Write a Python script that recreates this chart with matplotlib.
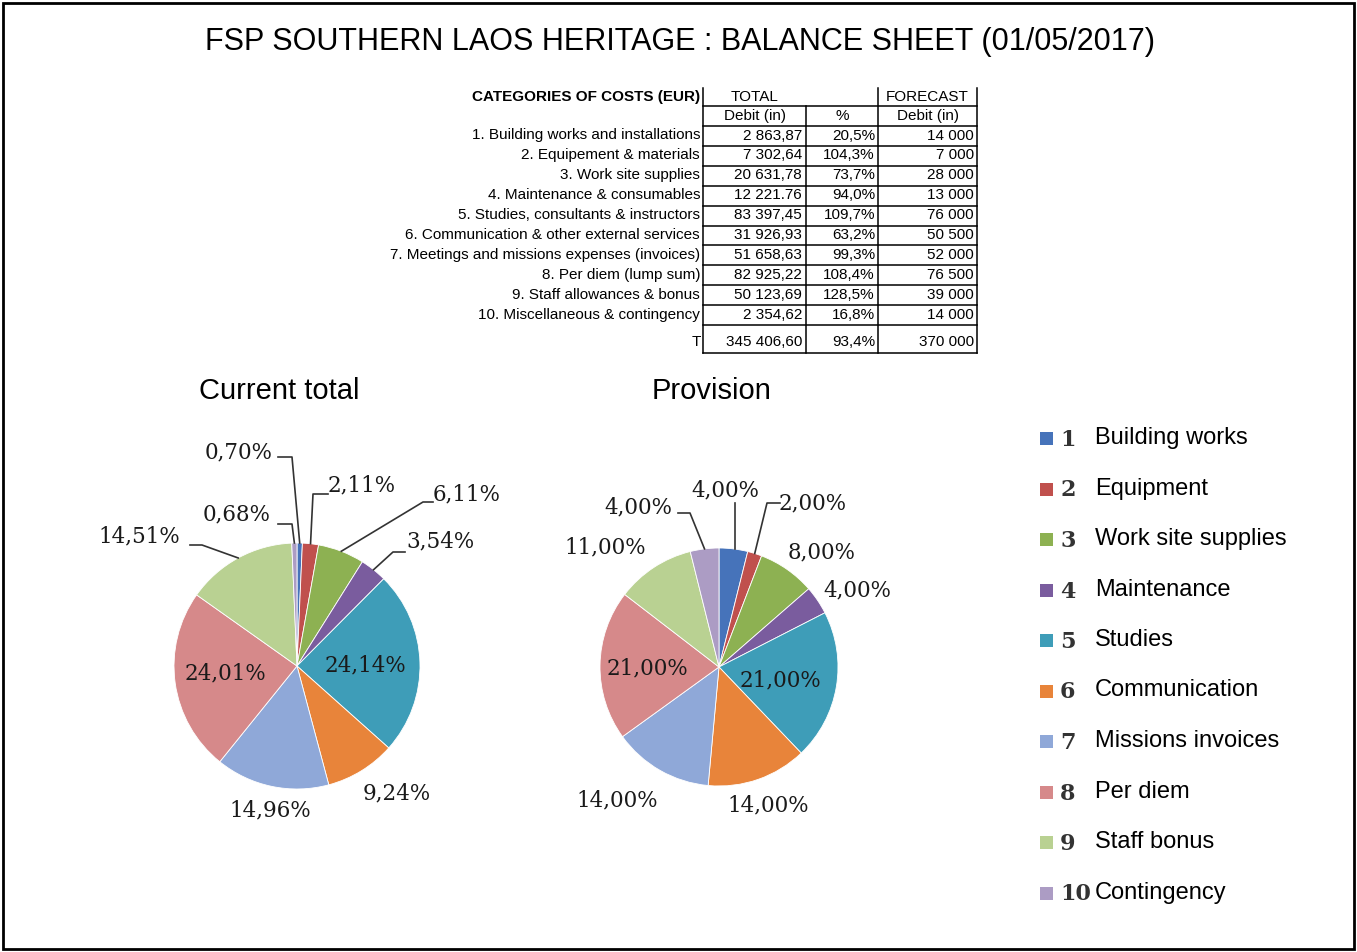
import matplotlib
matplotlib.use('Agg')
import matplotlib.pyplot as plt
import numpy as np
from matplotlib.patches import Rectangle

# data
categories = ["1. Building works and installations", "2. Equipement & materials",
              "3. Work site supplies", "4. Maintenance & consumables",
              "5. Studies, consultants & instructors", "6. Communication & other external services",
              "7. Meetings and missions expenses (invoices)", "8. Per diem (lump sum)",
              "9. Staff allowances & bonus", "10. Miscellaneous & contingency"]
debit = ["2 863,87", "7 302,64", "20 631,78", "12 221.76", "83 397,45",
         "31 926,93", "51 658,63", "82 925,22", "50 123,69", "2 354,62"]
pct = ["20,5%", "104,3%", "73,7%", "94,0%", "109,7%", "63,2%", "99,3%", "108,4%", "128,5%", "16,8%"]
forecast = ["14 000", "7 000", "28 000", "13 000", "76 000",
            "50 500", "52 000", "76 500", "39 000", "14 000"]
totals = ["345 406,60", "93,4%", "370 000"]

current_share = [0.70, 2.11, 6.11, 3.54, 24.14, 9.24, 14.96, 24.01, 14.51, 0.68]
provision_share = [4, 2, 8, 4, 21, 14, 14, 21, 11, 4]
current_labels = ["0,70%", "2,11%", "6,11%", "3,54%", "24,14%", "9,24%", "14,96%", "24,01%", "14,51%", "0,68%"]
provision_labels = ["4,00%", "2,00%", "8,00%", "4,00%", "21,00%", "14,00%", "14,00%", "21,00%", "11,00%", "4,00%"]

legend_names = ["Building works", "Equipment", "Work site supplies", "Maintenance", "Studies",
                "Communication", "Missions invoices", "Per diem", "Staff bonus", "Contingency"]
colors = ["#4673BA", "#C0504D", "#8DB152", "#7A5C9E", "#3E9DB8",
          "#E8843A", "#8FA8D8", "#D6898A", "#B9D192", "#AC9CC4"]

W, H = 1357, 952
fig = plt.figure(figsize=(W / 100, H / 100), dpi=100)
ax = fig.add_axes([0, 0, 1, 1])


def Y(y):
    # pixel from top -> data y
    return H - y


sans = 'Liberation Sans'
serif = 'DejaVu Serif'

# border + title
ax.add_patch(Rectangle((3, 3), W - 6, H - 6, fill=False, lw=2, ec='black'))
ax.text(680, Y(42), "FSP SOUTHERN LAOS HERITAGE : BALANCE SHEET (01/05/2017)",
        fontsize=22, family=sans, ha='center', va='center')

# ---- table ----
tfs = 11
x_lab, x_c1, x_c2, x_c3, x_end = 703, 806, 878, 977, 977
ax.text(x_lab - 3, Y(97), "CATEGORIES OF COSTS (EUR)", fontsize=tfs, family=sans,
        weight='bold', ha='right', va='center')
ax.text(755, Y(97), "TOTAL", fontsize=tfs, family=sans, ha='center', va='center')
ax.text(927, Y(97), "FORECAST", fontsize=tfs, family=sans, ha='center', va='center')
ax.text(755, Y(116), "Debit (in)", fontsize=tfs, family=sans, ha='center', va='center')
ax.text(842, Y(116), "%", fontsize=tfs, family=sans, ha='center', va='center')
ax.text(928, Y(116), "Debit (in)", fontsize=tfs, family=sans, ha='center', va='center')

row0, rowh = 135.5, 19.9
for i in range(len(categories)):
    yy = Y(row0 + i * rowh)
    ax.text(x_lab - 3, yy, categories[i], fontsize=tfs, family=sans, ha='right', va='center')
    ax.text(x_c1 - 4, yy, debit[i], fontsize=tfs, family=sans, ha='right', va='center')
    ax.text(x_c2 - 3, yy, pct[i], fontsize=tfs, family=sans, ha='right', va='center')
    ax.text(x_c3 - 3, yy, forecast[i], fontsize=tfs, family=sans, ha='right', va='center')
ytot = Y(342)
ax.text(x_lab - 2, ytot, "T", fontsize=tfs, family=sans, ha='right', va='center')
ax.text(x_c1 - 4, ytot, totals[0], fontsize=tfs, family=sans, ha='right', va='center')
ax.text(x_c2 - 3, ytot, totals[1], fontsize=tfs, family=sans, ha='right', va='center')
ax.text(x_c3 - 3, ytot, totals[2], fontsize=tfs, family=sans, ha='right', va='center')

lk = dict(color='black', lw=1.1)
ax.plot([x_lab, x_lab], [Y(88), Y(353)], **lk)
ax.plot([x_c1, x_c1], [Y(106), Y(353)], **lk)
ax.plot([x_c2, x_c2], [Y(88), Y(353)], **lk)
ax.plot([x_end, x_end], [Y(88), Y(353)], **lk)
hlines = [106, 126] + [126 + rowh * (k + 1) for k in range(len(categories))] + [353]
for hy in hlines:
    ax.plot([x_lab, x_end], [Y(hy), Y(hy)], **lk)

# ---- pies ----
ax.text(279, Y(391), "Current total", fontsize=21, family=sans, ha='center', va='center')
ax.text(712, Y(391), "Provision", fontsize=21, family=sans, ha='center', va='center')

pie_kw = dict(startangle=90, counterclock=False, colors=colors,
              wedgeprops=dict(edgecolor='white', linewidth=0.6))
c1, r1 = (297, 666), 123
c2, r2 = (719, 667), 119
w1, _ = ax.pie(current_share, center=(c1[0], Y(c1[1])), radius=r1, **pie_kw)
w2, _ = ax.pie(provision_share, center=(c2[0], Y(c2[1])), radius=r2, **pie_kw)

# label positions (text centre) and leader elbows, pixels from top
lab1 = [(239, 452), (362, 485), (467, 494), (440, 541), (365, 665),
        (397, 793), (270, 810), (225, 673), (139, 536), (237, 514)]
lead1 = {0: [(278, 457), (292, 457)], 1: [(328, 494), (313, 494)],
         2: [(433, 502), (423, 502)], 3: [(405, 552), (393, 552)],
         8: [(190, 545), (202, 545)], 9: [(278, 524), (292, 524)]}
lab2 = [(725, 490), (813, 503), (822, 552), (857, 590), (780, 680),
        (768, 805), (617, 800), (647, 668), (605, 547), (638, 507)]
lead2 = {0: [(735, 503)], 1: [(780, 503), (767, 503)], 9: [(678, 513), (690, 513)]}

lfs = 15.5
for wedges, labels, pos, leads, c, r in [(w1, current_labels, lab1, lead1, c1, r1),
                                         (w2, provision_labels, lab2, lead2, c2, r2)]:
    for i, w in enumerate(wedges):
        ax.text(pos[i][0], Y(pos[i][1]), labels[i], fontsize=lfs, family=serif,
                ha='center', va='center', color='#1a1a1a')
        if i in leads:
            mid = np.deg2rad((w.theta1 + w.theta2) / 2)
            tip = (c[0] + r * np.cos(mid), Y(c[1]) + r * np.sin(mid))
            if i == 0 and leads is lead2:
                tip = (leads[i][0][0], tip[1])
            pts = [(px, Y(py)) for px, py in leads[i]] + [tip]
            ax.plot([p[0] for p in pts], [p[1] for p in pts], color='#333333', lw=1.2)

# ---- legend ----
leg_y0, leg_dy = 438, 50.5
for i, name in enumerate(legend_names):
    yy = Y(leg_y0 + i * leg_dy)
    ax.add_patch(Rectangle((1040, yy - 7), 13, 13, color=colors[i], lw=0))
    ax.text(1060, yy - 2, str(i + 1), fontsize=16, family=serif, weight='bold',
            color='#333333', ha='left', va='center')
    ax.text(1095, yy, name, fontsize=17, family=sans, ha='left', va='center')

ax.set_xlim(0, W)
ax.set_ylim(0, H)
ax.set_aspect('auto')
ax.axis('off')

fig.savefig('out.png', dpi=100)
